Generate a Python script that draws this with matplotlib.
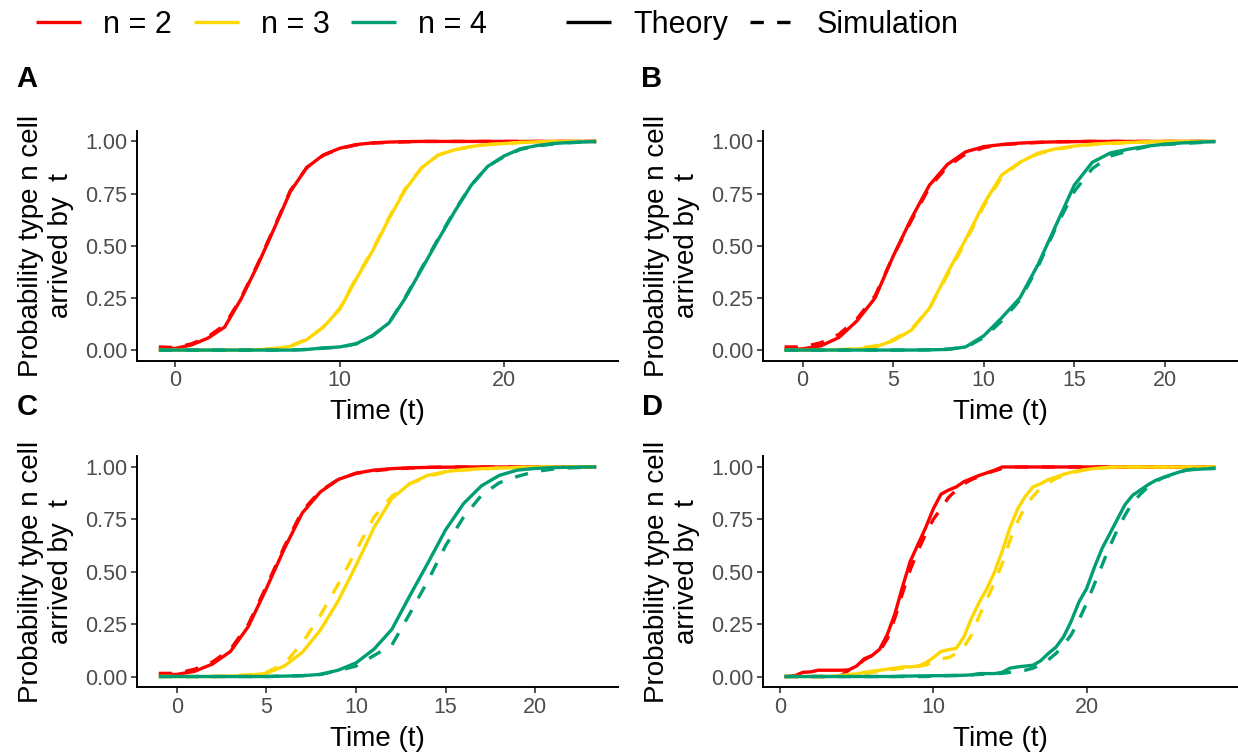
import matplotlib
matplotlib.use("Agg")
import matplotlib.pyplot as plt
from matplotlib.lines import Line2D

plt.rcParams['font.family'] = ['Liberation Sans', 'DejaVu Sans']

# colours for n = 2, 3, 4
col_n = ['#FF0000', '#FFD700', '#009E73']
n_labels = ['n = 2', 'n = 3', 'n = 4']

# ---- panel A ----
t_A = [-1, 0, 1, 2, 3, 4, 5, 6, 7, 8, 9, 10, 11, 12, 13, 14, 15, 16, 17, 18,
       19, 20, 21, 22, 23, 24, 25, 25.6]
A_n2_theory = [0.005, 0.008, 0.025, 0.058, 0.11, 0.245, 0.405, 0.58, 0.76, 0.875,
               0.935, 0.967, 0.985, 0.993, 0.997, 0.999, 1, 1, 1, 1,
               1, 1, 1, 1, 1, 1, 1, 1]
A_n2_sim = [0.015, 0.012, 0.03, 0.065, 0.12, 0.25, 0.41, 0.585, 0.765, 0.875,
            0.933, 0.966, 0.983, 0.992, 0.996, 0.998, 1, 1, 1, 1,
            1, 1, 1, 1, 1, 1, 1, 1]
A_n3_theory = [0, 0, 0, 0, 0, 0, 0.002, 0.006, 0.018, 0.05,
               0.11, 0.195, 0.34, 0.475, 0.63, 0.77, 0.875, 0.935, 0.96, 0.976,
               0.985, 0.99, 0.995, 0.998, 1, 1, 1, 1]
A_n3_sim = [0, 0, 0, 0, 0, 0, 0.002, 0.007, 0.02, 0.052,
            0.11, 0.2, 0.345, 0.48, 0.635, 0.775, 0.875, 0.935, 0.96, 0.975,
            0.985, 0.99, 0.995, 0.998, 1, 1, 1, 1]
A_n4_theory = [0, 0, 0, 0, 0, 0, 0, 0, 0, 0.003,
               0.01, 0.015, 0.03, 0.07, 0.13, 0.25, 0.39, 0.53, 0.665, 0.79,
               0.88, 0.93, 0.965, 0.98, 0.99, 0.995, 0.998, 1]
A_n4_sim = [0, 0, 0, 0, 0, 0, 0, 0, 0, 0.003,
            0.009, 0.014, 0.03, 0.068, 0.13, 0.255, 0.395, 0.535, 0.67, 0.79,
            0.88, 0.928, 0.962, 0.978, 0.988, 0.994, 0.997, 0.999]

# ---- panel B ----
t_B = [-1, 0, 1, 2, 3, 4, 5, 6, 7, 8, 9, 10, 11, 12, 13, 14, 15, 16, 17, 18,
       19, 20, 21, 22, 22.8]
B_n2_theory = [0.003, 0.006, 0.02, 0.06, 0.14, 0.25, 0.45, 0.63, 0.79, 0.89,
               0.95, 0.975, 0.985, 0.992, 0.996, 0.998, 0.999, 1, 1, 1,
               1, 1, 1, 1, 1]
B_n2_sim = [0.015, 0.015, 0.035, 0.075, 0.15, 0.26, 0.45, 0.62, 0.78, 0.88,
            0.94, 0.97, 0.985, 0.99, 0.995, 0.998, 1, 1, 1, 1,
            1, 1, 1, 1, 1]
B_n3_theory = [0, 0, 0, 0.002, 0.005, 0.015, 0.045, 0.095, 0.20, 0.37,
               0.53, 0.70, 0.84, 0.90, 0.944, 0.965, 0.978, 0.987, 0.992, 0.995,
               0.998, 1, 1, 1, 1]
B_n3_sim = [0, 0, 0, 0, 0.008, 0.02, 0.05, 0.10, 0.20, 0.36,
            0.52, 0.69, 0.83, 0.90, 0.94, 0.962, 0.976, 0.985, 0.99, 0.994,
            0.997, 1, 1, 1, 1]
B_n4_theory = [0, 0, 0, 0, 0, 0, 0, 0, 0.001, 0.003,
               0.015, 0.068, 0.155, 0.25, 0.41, 0.60, 0.79, 0.90, 0.945, 0.963,
               0.977, 0.987, 0.993, 0.997, 0.999]
B_n4_sim = [0, 0, 0, 0, 0, 0, 0, 0, 0.001, 0.005,
            0.012, 0.06, 0.14, 0.24, 0.40, 0.59, 0.76, 0.87, 0.93, 0.955,
            0.975, 0.985, 0.99, 0.995, 0.998]

# ---- panel C ----
t_C = [-1, 0, 1, 2, 3, 4, 5, 6, 7, 8, 9, 10, 11, 12, 13, 14, 15, 16, 17, 18,
       19, 20, 21, 22, 23, 23.4]
C_n2_theory = [0.008, 0.01, 0.025, 0.06, 0.12, 0.24, 0.42, 0.61, 0.78, 0.88,
               0.94, 0.97, 0.985, 0.992, 0.996, 0.998, 0.999, 1, 1, 1,
               1, 1, 1, 1, 1, 1]
C_n2_sim = [0.015, 0.015, 0.035, 0.07, 0.13, 0.25, 0.43, 0.62, 0.79, 0.885,
            0.94, 0.97, 0.982, 0.99, 0.995, 0.998, 1, 1, 1, 1,
            1, 1, 1, 1, 1, 1]
C_n3_theory = [0, 0, 0, 0, 0.002, 0.006, 0.015, 0.05, 0.115, 0.22,
               0.36, 0.53, 0.71, 0.85, 0.92, 0.96, 0.978, 0.987, 0.992, 0.995,
               0.997, 1, 1, 1, 1, 1]
C_n3_sim = [0, 0, 0, 0, 0.003, 0.008, 0.02, 0.06, 0.16, 0.29,
            0.44, 0.60, 0.76, 0.86, 0.92, 0.955, 0.975, 0.985, 0.99, 0.995,
            0.998, 1, 1, 1, 1, 1]
C_n4_theory = [0, 0, 0, 0, 0, 0, 0, 0.002, 0.004, 0.01,
               0.03, 0.065, 0.13, 0.225, 0.385, 0.54, 0.70, 0.825, 0.91, 0.96,
               0.985, 0.993, 0.997, 0.999, 1, 1]
C_n4_sim = [0, 0, 0, 0, 0, 0, 0, 0.002, 0.004, 0.01,
            0.028, 0.05, 0.10, 0.15, 0.30, 0.455, 0.625, 0.76, 0.865, 0.925,
            0.955, 0.978, 0.99, 0.996, 0.999, 1]

# ---- panel D ----
t_D = [0.3, 0.5, 1.0, 1.5, 2.0, 2.5, 3.0, 3.5, 4.0, 4.5,
       5.0, 5.5, 6.0, 6.5, 7.0, 7.5, 8.0, 8.5, 9.0, 9.5,
       10.0, 10.5, 11.0, 11.5, 12.0, 12.5, 13.0, 13.5, 14.0, 14.5,
       15.0, 15.5, 16.0, 16.5, 17.0, 17.5, 18.0, 18.5, 19.0, 19.5,
       20.0, 20.5, 21.0, 21.5, 22.0, 22.5, 23.0, 23.5, 24.0, 24.5,
       25.0, 25.5, 26.0, 26.5, 27.0, 27.5, 28.0, 28.4]
D_n2_theory = [0, 0, 0.005, 0.02, 0.022, 0.03, 0.03, 0.03, 0.03, 0.032,
               0.05, 0.085, 0.10, 0.13, 0.20, 0.30, 0.43, 0.55, 0.63, 0.71,
               0.80, 0.87, 0.89, 0.905, 0.93, 0.945, 0.96, 0.972, 0.985, 1,
               1, 1, 1, 1, 1, 1, 1, 1, 1, 1,
               1, 1, 1, 1, 1, 1, 1, 1, 1, 1,
               1, 1, 1, 1, 1, 1, 1, 1]
D_n2_sim = [0, 0, 0, 0, 0, 0, 0, 0, 0.005, 0.03,
            0.05, 0.08, 0.10, 0.12, 0.18, 0.28, 0.40, 0.51, 0.60, 0.68,
            0.75, 0.80, 0.855, 0.89, 0.92, 0.94, 0.955, 0.97, 0.982, 0.993,
            1, 1, 1, 1, 1, 1, 1, 1, 1, 1,
            1, 1, 1, 1, 1, 1, 1, 1, 1, 1,
            1, 1, 1, 1, 1, 1, 1, 1]
D_n3_theory = [0, 0, 0, 0, 0, 0, 0, 0.002, 0.005, 0.01,
               0.012, 0.02, 0.025, 0.03, 0.035, 0.04, 0.046, 0.046, 0.05, 0.065,
               0.09, 0.12, 0.128, 0.135, 0.19, 0.28, 0.355, 0.42, 0.50, 0.60,
               0.71, 0.80, 0.86, 0.905, 0.92, 0.94, 0.952, 0.965, 0.975, 0.982,
               0.988, 0.993, 0.996, 0.998, 1, 1, 1, 1, 1, 1,
               1, 1, 1, 1, 1, 1, 1, 1]
D_n3_sim = [0, 0, 0, 0, 0, 0, 0, 0, 0.002, 0.005,
            0.008, 0.012, 0.02, 0.025, 0.03, 0.035, 0.04, 0.045, 0.048, 0.055,
            0.07, 0.085, 0.09, 0.11, 0.14, 0.20, 0.29, 0.37, 0.45, 0.54,
            0.65, 0.74, 0.81, 0.86, 0.90, 0.925, 0.945, 0.96, 0.97, 0.98,
            0.988, 0.992, 0.995, 0.998, 1, 1, 1, 1, 1, 1,
            1, 1, 1, 1, 1, 1, 1, 1]
D_n4_theory = [0, 0, 0, 0, 0, 0, 0, 0, 0, 0,
               0, 0, 0, 0, 0, 0, 0.002, 0.002, 0.003, 0.003,
               0.004, 0.004, 0.005, 0.005, 0.006, 0.008, 0.014, 0.014, 0.014, 0.02,
               0.04, 0.046, 0.05, 0.054, 0.075, 0.11, 0.14, 0.19, 0.265, 0.356,
               0.42, 0.52, 0.61, 0.68, 0.75, 0.82, 0.865, 0.89, 0.915, 0.936,
               0.95, 0.963, 0.975, 0.985, 0.988, 0.99, 0.992, 0.993]
D_n4_sim = [0, 0, 0, 0, 0, 0, 0, 0, 0, 0,
            0, 0, 0, 0, 0, 0, 0, 0, 0, 0,
            0.002, 0.003, 0.004, 0.005, 0.006, 0.008, 0.01, 0.012, 0.014, 0.015,
            0.02, 0.025, 0.03, 0.04, 0.055, 0.08, 0.11, 0.15, 0.20, 0.27,
            0.35, 0.44, 0.53, 0.62, 0.70, 0.77, 0.83, 0.87, 0.905, 0.93,
            0.95, 0.96, 0.975, 0.985, 0.99, 0.992, 0.993, 0.995]

panels = [
	('A', t_A, [A_n2_theory, A_n3_theory, A_n4_theory], [A_n2_sim, A_n3_sim, A_n4_sim], [0, 10, 20]),
	('B', t_B, [B_n2_theory, B_n3_theory, B_n4_theory], [B_n2_sim, B_n3_sim, B_n4_sim], [0, 5, 10, 15, 20]),
	('C', t_C, [C_n2_theory, C_n3_theory, C_n4_theory], [C_n2_sim, C_n3_sim, C_n4_sim], [0, 5, 10, 15, 20]),
	('D', t_D, [D_n2_theory, D_n3_theory, D_n4_theory], [D_n2_sim, D_n3_sim, D_n4_sim], [0, 10, 20]),
]

W, H = 1238, 753
fig = plt.figure(figsize=(W / 100, H / 100), dpi=100)

# panel boxes in pixels: left, top, right, bottom
boxes = [(137, 131, 618, 360.5), (763, 131, 1237, 360.5),
         (137, 456.5, 618, 687), (763, 456.5, 1237, 687)]
letter_pos = [(27, 79), (652, 79), (27, 407), (652, 407)]

lw = 2.4
for (letter, t, theory, sim, xt), (l, tp, r, b), (lx, ly) in zip(panels, boxes, letter_pos):
	ax = fig.add_axes([l / W, 1 - b / H, (r - l) / W, (b - tp) / H])
	for c, th, sm in zip(col_n, theory, sim):
		ax.plot(t, th, color=c, lw=lw, solid_capstyle='butt', solid_joinstyle='round')
		ax.plot(t, sm, color=c, lw=lw, linestyle=(0, (4, 4)), dash_capstyle='butt')
	# ggplot style 5% expansion
	span = t[-1] - t[0]
	ax.set_xlim(t[0] - 0.05 * span, t[-1] + 0.05 * span)
	ax.set_ylim(-0.05, 1.05)
	ax.set_xticks(xt)
	ax.set_yticks([0, 0.25, 0.5, 0.75, 1.0])
	ax.set_yticklabels(['0.00', '0.25', '0.50', '0.75', '1.00'])
	for s in ['top', 'right']:
		ax.spines[s].set_visible(False)
	for s in ['left', 'bottom']:
		ax.spines[s].set_linewidth(1.4)
		ax.spines[s].set_color('black')
	ax.tick_params(length=4, width=1.2, color='#333333', labelcolor='#4D4D4D',
	               labelsize=15.5, pad=3)
	ax.set_xlabel('Time (t)', fontsize=20, va='center')
	ax.xaxis.set_label_coords(0.5, -0.224)
	ax.set_ylabel('Probability type n cell\narrived by  t', fontsize=20,
	              va='center', ha='center', linespacing=1.15)
	ax.yaxis.set_label_coords(-91 / (r - l), 0.5)
	fig.text(lx / W, 1 - ly / H, letter, fontsize=21, fontweight='bold',
	         ha='center', va='center')

# legends at the top
h_col = [Line2D([], [], color=c, lw=lw, solid_capstyle='butt') for c in col_n]
leg1 = fig.legend(h_col, n_labels, loc='center left', bbox_to_anchor=(36 / W, 1 - 25 / H),
                  ncol=3, frameon=False, fontsize=22, handlelength=1.47,
                  handletextpad=0.72, columnspacing=0.72, borderpad=0, borderaxespad=0)
h_lt = [Line2D([], [], color='black', lw=lw, solid_capstyle='butt'),
        Line2D([], [], color='black', lw=lw, linestyle=(0, (4, 4)), dash_capstyle='butt')]
leg2 = fig.legend(h_lt, ['Theory', 'Simulation'], loc='center left',
                  bbox_to_anchor=(566 / W, 1 - 25 / H), ncol=2, frameon=False,
                  fontsize=22, handlelength=1.47, handletextpad=0.72,
                  columnspacing=0.72, borderpad=0, borderaxespad=0)

fig.savefig('out.png', dpi=100)
